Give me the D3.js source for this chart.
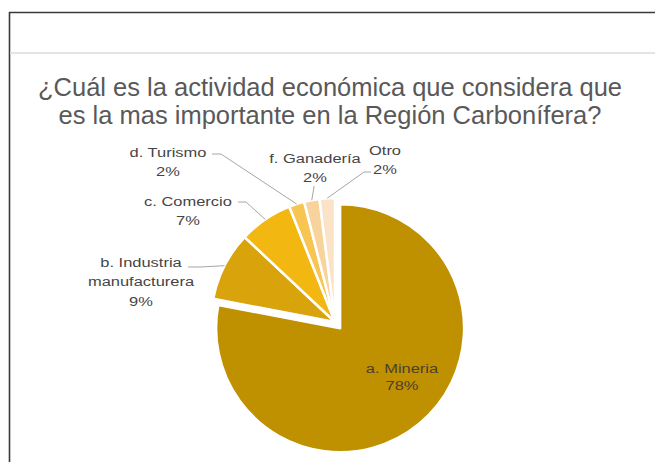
<!DOCTYPE html>
<html>
<head>
<meta charset="utf-8">
<script src="https://cdn.jsdelivr.net/npm/d3@7"></script>
<style>
  html, body { margin: 0; padding: 0; background: #ffffff; }
  svg { display: block; }
</style>
</head>
<body>
<svg id="chart" width="655" height="462"></svg>
<script>
// Survey answers: main economic activity of the Región Carbonífera
const categories = ["a. Mineria", "b. Industria manufacturera", "c. Comercio", "d. Turismo", "f. Ganadería", "Otro"];
const labelLines = [["a. Mineria"], ["b. Industria", "manufacturera"], ["c. Comercio"], ["d. Turismo"], ["f. Ganadería"], ["Otro"]];
const values = [78, 9, 7, 2, 2, 2];
const sliceColors = ["#BF9000", "#D9A30C", "#F2B710", "#F6C552", "#F8D49C", "#FBE3C8"];
const titleLines = ["¿Cuál es la actividad económica que considera que", "es la mas importante en la Región Carbonífera?"];

const svg = d3.select("#chart");
const W = 655, H = 462;

// frame of the chart panel
svg.append("rect").attr("x", 0).attr("y", 0).attr("width", W).attr("height", H).attr("fill", "#fff");
svg.append("line").attr("x1", 9).attr("x2", W).attr("y1", 12.5).attr("y2", 12.5)
  .attr("stroke", "#3a3a3a").attr("stroke-width", 1.6);
svg.append("line").attr("x1", 9.5).attr("x2", 9.5).attr("y1", 12).attr("y2", H)
  .attr("stroke", "#3a3a3a").attr("stroke-width", 1.6);
svg.append("line").attr("x1", 10).attr("x2", W).attr("y1", 53).attr("y2", 53)
  .attr("stroke", "#e4e4e4").attr("stroke-width", 2);

// title
const title = svg.append("text")
  .attr("font-family", "'Liberation Sans', Arial, sans-serif")
  .attr("font-size", 25.5)
  .attr("fill", "#595959")
  .attr("text-anchor", "middle");
titleLines.forEach((t, i) => {
  title.append("tspan").attr("x", 330).attr("y", 96 + i * 28).text(t);
});

// pie geometry
const cx = 335, cy = 322, r = 124, explode = 8;
const pie = d3.pie().sort(null).value(d => d.value).startAngle(0).endAngle(2 * Math.PI);
const arc = d3.arc().innerRadius(0).outerRadius(r);
const data = categories.map((c, i) => ({ name: c, value: values[i], color: sliceColors[i], lines: labelLines[i] }));
const arcs = pie(data);

const g = svg.append("g").attr("transform", `translate(${cx},${cy})`);
g.selectAll("path.slice")
  .data(arcs)
  .join("path")
  .attr("class", "slice")
  .attr("d", arc)
  .attr("fill", d => d.data.color)
  .attr("stroke", "#ffffff")
  .attr("stroke-width", 2.5)
  .attr("stroke-linejoin", "round")
  .attr("transform", (d, i) => {
    if (i !== 0) return null;
    const a = (d.startAngle + d.endAngle) / 2;
    return `translate(${Math.sin(a) * explode},${-Math.cos(a) * explode})`;
  });

// label layout: anchor centre, first baseline, leader start and elbow
const labelLayout = [
  { x: 402, y: 373, inside: true },
  { x: 141, y: 267, line: [[188, 267], [200, 267]] },
  { x: 188, y: 206, line: [[238, 202], [246, 202]] },
  { x: 168, y: 157, line: [[212, 154], [221, 154]] },
  { x: 315, y: 163, line: [[314, 186], [314, 187]] },
  { x: 385, y: 155, line: [[371, 172], [364, 172]] }
];
const lineGap = 19.5;
const stretch = 1.22;

const labels = svg.append("g")
  .attr("font-family", "'Liberation Sans', Arial, sans-serif")
  .attr("font-size", 13.5)
  .attr("text-anchor", "middle");

arcs.forEach((d, i) => {
  const L = labelLayout[i];
  const a = (d.startAngle + d.endAngle) / 2;
  if (!L.inside) {
    const edge = [cx + Math.sin(a) * r, cy - Math.cos(a) * r];
    svg.append("polyline")
      .attr("points", [L.line[0], L.line[1], edge].map(p => p.join(",")).join(" "))
      .attr("fill", "none")
      .attr("stroke", "#a6a6a6")
      .attr("stroke-width", 1);
  }
  const t = labels.append("text")
    .attr("fill", L.inside ? "#4a4030" : "#454545")
    .attr("transform", `translate(${L.x},${L.y}) scale(${stretch},1)`);
  const lines = d.data.lines.concat([`${d.data.value}%`]);
  lines.forEach((s, k) => {
    t.append("tspan").attr("x", 0).attr("y", k * (L.inside ? 17.5 : lineGap)).text(s);
  });
});
</script>
</body>
</html>
